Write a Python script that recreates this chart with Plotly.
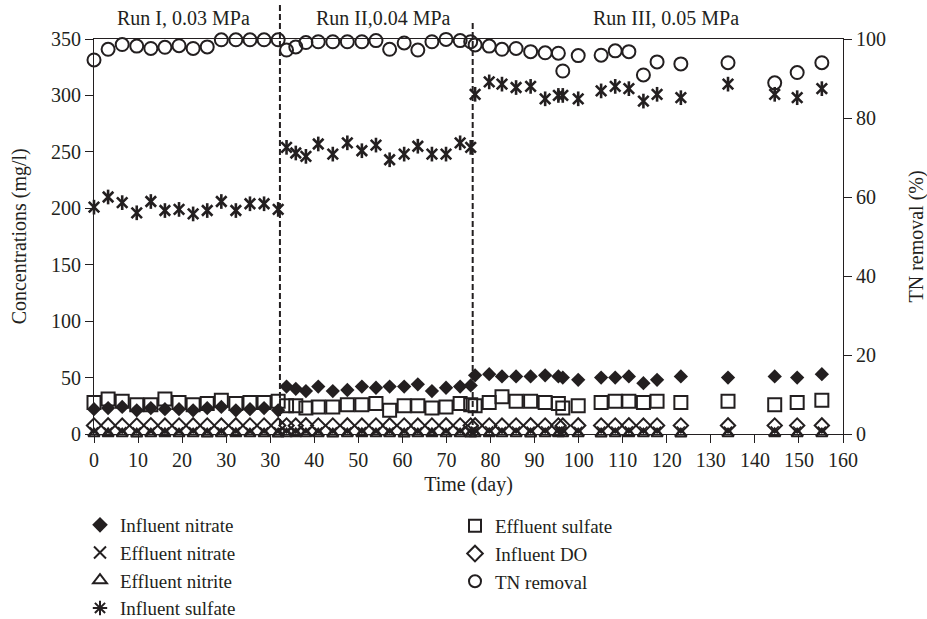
import plotly.graph_objects as go

# ---- axis tick labels (as printed on the original axis) ----
x_tickvals = [0, 10, 20, 30, 40, 50, 60, 70, 80, 90, 100, 110, 120, 130, 140, 150, 160, 170]
x_ticktext = ["0", "10", "20", "30", "30", "40", "50", "60", "70", "80", "90",
              "100", "110", "120", "130", "140", "150", "160"]

# ---- sampling positions along the time axis (axis units) ----
t_run1 = [0, 3.2, 6.4, 9.7, 12.9, 16.1, 19.3, 22.5, 25.7, 28.9, 32.2, 35.4, 38.6, 41.8]
t_run2 = [43.7, 45.8, 48.1, 50.9, 54.2, 57.5, 60.8, 64.0, 67.1, 70.4, 73.5, 76.7, 79.9, 83.1, 85.5]
t_run3 = [86.5, 89.7, 92.6, 95.8, 99.1, 102.4, 105.4, 106.4, 109.9, 115.1, 118.3, 121.4,
          124.7, 127.8, 133.2, 143.9, 154.5, 159.6, 165.2]
time = t_run1 + t_run2 + t_run3

run_boundaries = [42.2, 85.95]

# ---- series (mg/l unless noted) ----
influent_nitrate = [22, 23, 24, 21, 23, 22, 22, 21, 23, 24, 21, 22, 23, 21,
                    42, 40, 38, 42, 38, 39, 42, 41, 42, 42, 44, 38, 41, 42, 43,
                    52, 53, 51, 51, 51, 52, 51, 50, 48, 50, 50, 51, 45, 48, 51, 50, 51, 50, 53]
effluent_nitrate = [2.5, 2.2, 2.6, 2.4, 2.3, 2.5, 2.4, 2.6, 2.3, 2.5, 2.4, 2.2, 2.5, 2.4,
                    2.6, 2.4, 2.5, 2.3, 2.5, 2.4, 2.6, 2.3, 2.5, 2.4, 2.5, 2.3, 2.4, 2.6, 2.5,
                    3.0, 3.2, 2.9, 3.1, 3.0, 3.2, 3.1, 3.0, 2.9, 3.1, 3.0, 3.2, 3.1, 3.0, 3.1, 3.0, 3.2, 3.1, 3.0]
effluent_nitrite = [0.2, 0.3, 0.2, 0.1, 0.2, 0.3, 0.2, 0.2, 0.1, 0.2, 0.3, 0.2, 0.2, 0.1,
                    0.2, 0.3, 0.2, 0.2, 0.1, 0.2, 0.3, 0.2, 0.2, 0.1, 0.2, 0.3, 0.2, 0.2, 0.1,
                    0.2, 0.3, 0.2, 0.2, 0.1, 0.2, 0.3, 0.2, 0.2, 0.1, 0.2, 0.3, 0.2, 0.2, 0.1, 0.2, 0.3, 0.2, 0.2]
influent_sulfate = [201, 210, 205, 196, 206, 198, 199, 195, 198, 206, 198, 204, 204, 199,
                    254, 249, 246, 257, 248, 258, 251, 256, 243, 248, 255, 248, 248, 258, 254,
                    301, 312, 310, 307, 308, 297, 300, 300, 297, 304, 308, 306, 295, 301, 298, 310, 301, 298, 306]
effluent_sulfate = [28, 31, 29, 26, 26, 31, 28, 26, 27, 30, 27, 28, 28, 29,
                    25, 25, 23, 24, 24, 26, 26, 27, 21, 25, 25, 23, 24, 27, 26,
                    25, 28, 33, 29, 29, 28, 27, 23, 25, 28, 29, 29, 28, 29, 28, 29, 26, 28, 30]
influent_do = [7.5, 7.6, 7.4, 7.5, 7.7, 7.4, 7.5, 7.6, 7.5, 7.4, 7.6, 7.5, 7.5, 7.6,
               7.5, 7.4, 7.6, 7.5, 7.5, 7.6, 7.4, 7.5, 7.6, 7.5, 7.4, 7.5, 7.6, 7.5, 7.5,
               7.6, 7.5, 7.4, 7.5, 7.6, 7.5, 7.5, 7.4, 7.6, 7.5, 7.5, 7.6, 7.4, 7.5, 7.5, 7.6, 7.5, 7.5, 7.6]
tn_removal = [94.7, 97.4, 98.6, 98.2, 97.6, 97.9, 98.3, 97.6, 98.0, 99.8, 99.8, 99.8, 99.8, 99.8,
              97.2, 98.0, 99.1, 99.3, 99.3, 99.3, 99.3, 99.6, 97.4, 99.0, 97.2, 99.3, 99.9, 99.6, 99.3,
              98.5, 98.2, 97.4, 97.6, 96.8, 96.5, 96.4, 91.9, 95.8, 95.9, 97.0, 96.8, 90.9, 94.2,
              93.7, 94.0, 88.9, 91.5, 94.0]

run_labels = ["Run I, 0.03 MPa", "Run II,0.04 MPa", "Run III, 0.05 MPa"]
run_label_pos = [20.4, 65.6, 129.8]

INK = "#231f20"
FONT = "Liberation Serif, Times New Roman, serif"

fig = go.Figure()


def add(name, y, symbol, size, lw, legend, rank, yaxis="y", showlegend=True):
    fig.add_trace(go.Scatter(
        x=time, y=y, name=name, mode="markers", yaxis=yaxis,
        legend=legend, legendrank=rank, showlegend=showlegend, cliponaxis=False,
        marker=dict(symbol=symbol, size=size, color=INK,
                    line=dict(color=INK, width=lw)),
    ))


add("Influent DO", influent_do, "diamond-open", 11, 2, "legend2", 2)
add("Effluent nitrate", effluent_nitrate, "x-thin-open", 8, 1.5, "legend", 2)
add("Effluent nitrite", effluent_nitrite, "triangle-up-open", 10, 2.2, "legend", 3)
add("Effluent sulfate", effluent_sulfate, "square-open", 13, 2, "legend2", 1)
add("Influent nitrate", influent_nitrate, "diamond", 11, 0, "legend", 1)
# influent sulfate drawn as a six-armed star (x plus vertical bar)
add("Influent sulfate", influent_sulfate, "x-thin-open", 10.5, 2.6, "legend", 4, showlegend=False)
add("Influent sulfate", influent_sulfate, "line-ns-open", 10.5, 2.6, "legend", 4, showlegend=False)
fig.add_trace(go.Scatter(x=[None], y=[None], name="Influent sulfate", mode="markers",
                         legend="legend", legendrank=4,
                         marker=dict(symbol="asterisk-open", size=9, color=INK,
                                     line=dict(color=INK, width=1.8))))
add("TN removal", tn_removal, "circle-open", 13, 2, "legend2", 3, yaxis="y2")

shapes = []
tops = [1.086, 1.043]
for xb, top in zip(run_boundaries, tops):
    shapes.append(dict(type="line", xref="x", yref="paper", x0=xb, x1=xb, y0=0, y1=top,
                       line=dict(color=INK, width=2, dash="6px,3px")))

annotations = [dict(x=px, y=1.053, xref="x", yref="paper", text=t, showarrow=False,
                    font=dict(family=FONT, size=20, color=INK), xanchor="center", yanchor="middle")
               for t, px in zip(run_labels, run_label_pos)]
# axis titles for the two value axes
annotations.append(dict(x=-0.099, y=0.5, xref="paper", yref="paper", text="Concentrations (mg/l)",
                        textangle=-90, showarrow=False, xanchor="center", yanchor="middle",
                        font=dict(family=FONT, size=20, color=INK)))
annotations.append(dict(x=1.0975, y=0.5, xref="paper", yref="paper", text="TN removal (%)",
                        textangle=-90, showarrow=False, xanchor="center", yanchor="middle",
                        font=dict(family=FONT, size=20, color=INK)))

axis_common = dict(showline=True, linecolor=INK, linewidth=1, ticks="outside", ticklen=8,
                   tickcolor=INK, tickwidth=1, showgrid=False, zeroline=False,
                   tickfont=dict(family=FONT, size=20, color=INK))

fig.update_layout(
    width=927, height=619,
    margin=dict(l=94, r=84, t=39, b=185, autoexpand=False),
    paper_bgcolor="white", plot_bgcolor="white",
    font=dict(family=FONT, size=20, color=INK),
    xaxis=dict(range=[0, 170], tickmode="array", tickvals=x_tickvals, ticktext=x_ticktext,
               tickangle=0, mirror=True,
               title=dict(text="Time (day)", font=dict(size=20), standoff=6),
               **axis_common),
    yaxis=dict(range=[0, 350], dtick=50, **axis_common),
    yaxis2=dict(range=[0, 100], dtick=20, overlaying="y", side="right", **axis_common),
    shapes=shapes,
    annotations=annotations,
    legend=dict(xref="container", yref="container", x=80 / 927, y=1 - 506 / 619,
                xanchor="left", yanchor="top", bgcolor="rgba(0,0,0,0)",
                font=dict(family=FONT, size=19, color=INK), itemsizing="constant"),
    legend2=dict(xref="container", yref="container", x=455 / 927, y=1 - 507 / 619,
                 xanchor="left", yanchor="top", bgcolor="rgba(0,0,0,0)",
                 font=dict(family=FONT, size=19, color=INK), itemsizing="constant"),
)

fig.write_html("out.html", config={"displayModeBar": False},
               post_script="document.body.style.margin='0px';")
